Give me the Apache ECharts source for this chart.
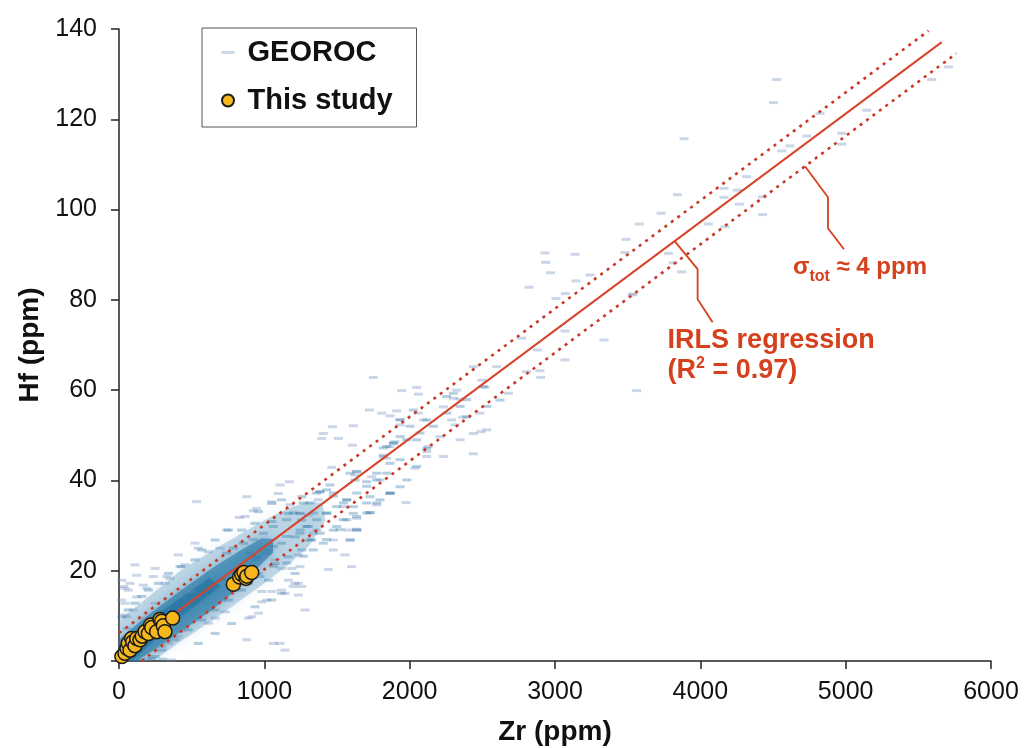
<!DOCTYPE html>
<html><head><meta charset="utf-8">
<script src="https://cdn.jsdelivr.net/npm/echarts@6/dist/echarts.min.js"></script>
<style>html,body{margin:0;padding:0;background:#fff}#c{width:1024px;height:748px}</style>
</head><body><div id="c"></div>
<script>
// ---- axis settings ----
const xAxisMin = 0, xAxisMax = 6000, xAxisStep = 1000;
const yAxisMin = 0, yAxisMax = 140, yAxisStep = 20;
const xName = 'Zr (ppm)';
const yName = 'Hf (ppm)';

// ---- regression lines (Zr, Hf) ----
const regLine   = [[0, 1.3], [5661, 137.1]];
const upperBand = [[0, 6.2], [5570, 139.6]];
const lowerBand = [[155, 0], [5762, 134.6]];
const irlsAnchor  = [3823, 93.0];
const sigmaAnchor = [4720, 109.6];

// ---- This study ----
const thisStudy = [[20,1.0],[41,1.7],[55,2.8],[64,3.9],[76,2.4],[87,5.0],[95,4.2],[110,3.4],[122,5.0],[145,4.7],[160,5.5],[179,6.5],[202,6.1],[218,8.0],[225,7.4],[259,6.5],[282,9.2],[294,8.8],[305,7.8],[316,6.5],[369,9.5],[787,17.0],[830,18.6],[844,19.2],[860,19.6],[874,18.3],[880,18.8],[913,19.6]];

// ---- GEOROC: density envelopes of the dense core ----
const densityOuter = [[0,0],[0,9],[100,11.5],[200,14.2],[430,20.2],[660,24.8],[840,28.2],[1000,31.2],[1160,33.8],[1300,35.2],[1400,35.0],[1420,31.0],[1300,25.2],[1160,21.2],[1000,17.2],[840,13.5],[660,9.4],[430,4.5],[300,1.5],[230,0]];
const densityInner = [[0,0],[0,4.8],[200,10.2],[430,15.8],[660,21.0],[840,24.6],[980,27.2],[1060,27.0],[1060,24.0],[980,21.5],[840,16.6],[660,11.8],[430,6.6],[250,2.6],[120,0]];
const densityCore  = [[0,0.3],[0,3.6],[300,11.2],[620,18.4],[700,16.6],[360,8.2],[100,0.3]];

// ---- GEOROC: individual samples ----
const georocSparse = [[4526,128.8],[4503,123.7],[3888,115.7],[5707,131.6],[5592,128.8],[5145,122.0],[4973,116.9],[4973,114.5],[4823,121.3],[4732,116.3],[4617,114.1],[4560,113.0],[4319,107.3],[4163,104.7],[4255,104.3],[4163,102.7],[4268,101.2],[4429,102.8],[4429,98.9],[3842,103.3],[3730,99.2],[3580,96.8],[3489,93.4],[3482,90.5],[3780,90.3],[3814,88.2],[3872,86.2],[4055,96.8],[4170,96.2],[3539,81.3],
[2931,90.4],[2936,88.3],[2970,86.0],[2821,82.8],[3138,90.1],[3241,85.5],[3145,84.2],[3007,80.3],[3071,81.4],[3069,73.1],[3337,71.1],[2771,71.5],[3528,81.1],[3562,59.9],
[3069,66.7],[2878,68.9],[2897,64.3],[2902,62.8],[2805,64.1],[2599,65.2],[2438,65.2],[2496,62.2],[2518,60.6],[2679,59.3],[2484,54.9],[2491,50.8],[2438,45.9],[2324,60.0],[2300,58.2],[2346,58.0],[2232,56.3],[2365,54.0],[2289,53.4],[2312,52.3],[2048,60.6],[2060,59.1],[1945,59.9],[1750,62.8],[1911,55.4],[1865,54.3],[1808,54.9],[1934,53.5],[1934,52.3],[2060,54.9],[1723,55.6],[2094,53.4],[2209,49.7],[2128,47.5],[2117,46.4],[1865,47.5],[1899,48.6],[1819,45.6],[1842,44.9],[1605,47.8],[1468,51.9],[1612,52.1],[1406,50.4],[1395,49.3],[1509,49.3],[2037,42.7],[1865,37.1],[1975,35.1],[1739,40.8],[1796,40.1],[1636,41.9],[1624,41.2],[1464,42.9],[1636,31.6],[1636,29.2],[1590,26.8],[1727,32.8],[1773,34.6],[1383,37.5],[1544,34.2],[2530,51.2],[2232,45.3],[2347,49.0],[2438,50.4],[2117,45.3],
[534,35.3],[879,36.4],[947,33.8],[1172,39.7],[1108,39.0],[1096,37.1],[1051,35.3],[867,32.0],[924,33.3],[828,31.8],[741,29.0],[695,25.0],[546,25.0],[454,21.3],[236,18.7],[122,19.0],[76,17.2],[41,16.1],[167,16.8],[328,18.7],[420,20.9],[1177,34.6],[1245,32.7],[1371,35.7],[1303,32.3],[1360,29.0],[1337,28.3],[1475,26.8],[1475,24.6],[1578,29.0],[1636,29.0],[1440,20.3],[1555,23.5],[1601,20.9],[1245,20.9],[1199,16.5],[1234,17.2],[1142,15.0],
[523,26.1],[615,24.2],[408,23.5],[110,21.3],[248,20.5],[351,18.3],[317,17.2],[190,16.1],[122,14.2],[64,15.7],[41,12.8],[98,11.3],[53,9.8],[53,7.2],[167,9.5],[248,12.8],[500,15.4],[1073,22.4],[1119,20.5],[1165,17.9],[1211,17.2],[1257,16.5],[1119,15.7],[1051,15.4],[1017,13.5],[982,13.1],[959,10.6],[913,9.8],[890,9.5],[982,15.4],[1234,23.5],[1188,20.5],[1062,3.9],[1234,14.6],[1280,11.3],[879,4.7],[1108,3.9],[1142,2.4],[707,13.5],[730,10.9],[661,9.5],[615,8.4],[431,6.9],[408,5.4],[339,3.9],[294,3.2],[362,0.2],[202,0.6],[18,17.9],[30,16.5],[18,13.5],[41,10.2]];

const georocCloud = [[1051,34.9],[1119,35.7],[1257,36.4],[959,33.1],[1165,32.7],[1257,31.2],[1051,30.9],[936,30.5],[844,29.0],[752,29.0],[661,26.8],[569,24.6],[523,22.4],[431,20.9],[340,19.4],[271,17.2],[202,15.7],[156,14.3],[110,12.8],[64,11.3],[18,9.8],[936,23.1],[1028,24.6],[1119,26.1],[1211,27.5],[1303,29.8],[1073,21.6],[1165,23.1],[1257,24.6],[1326,26.8],[959,19.4],[1028,17.9],[890,17.2],[844,15.7],[752,13.5],[661,11.3],[569,9.1],[477,6.9],[385,4.7],[294,2.4],[248,1.0],[546,3.9],[661,6.1],[775,8.3],[936,12.0],[1051,13.5],[1119,15.0],[1211,19.4],[798,20.2],[707,17.9],[615,16.5],[959,23.1],[150,0.3],[230,0.5],[300,0.4],
[1360,37.2],[1429,37.9],[1475,36.5],[1567,35.7],[1613,34.2],[1704,38.7],[1773,40.1],[1842,41.6],[1865,43.8],[1934,44.6],[1819,47.2],[1888,48.3],[1979,49.0],[2071,50.5],[2163,52.0],[2255,54.9],[2347,56.4],[2392,57.9],[2301,59.3],[2507,60.8],[2117,53.4],[2025,55.6],[1865,37.2],[1773,35.0],[1704,32.8],[1635,32.0],[1567,31.3],[1521,29.1],[1429,26.9],[1337,24.6],[1268,23.2],[1154,21.7],[1062,21.0],[970,18.7],[1245,28.3],[1154,27.6],[1062,25.4],[1016,23.9],[947,22.4],[855,21.0],[1337,32.8],[1429,32.8],[1268,35.0],[1199,32.8],[1154,31.3],[1062,29.8],[993,28.3],[924,26.9],[855,26.1],[787,25.0],[741,23.9],[901,23.9],
[1246,32.7],[1314,35.0],[1383,37.5],[1452,39.0],[1475,37.2],[1544,35.0],[1590,41.6],[1624,40.1],[1636,42.0],[1704,39.7],[1773,41.6],[1819,45.3],[1842,47.5],[1888,48.2],[1934,49.7],[1934,53.4],[2002,52.0],[2048,49.0],[2117,47.1],[1291,29.8],[1360,31.3],[1429,32.7],[1498,34.2],[1567,35.7],[1636,37.2],[1383,28.3],[1475,29.0],[1544,31.3],[1613,32.7],[1704,35.0],[1796,35.7],[1865,37.2],[1727,36.4],[1246,29.0],[1314,26.8],[1406,26.1],[1498,29.8],[1590,26.8],[1636,29.0],[1727,32.9],[1934,38.6],[1980,40.1],[2048,43.1],[2255,58.6],[2392,54.1],[2530,56.4],[2622,57.8]];

// ---- styles ----
const FONT = '"Liberation Sans", Arial, sans-serif';
const RED = '#d5401d';
const LINE_RED = '#d8442b';

const chart = echarts.init(document.getElementById('c'), null, {renderer:'canvas'});

function densitySeries(points, fill, blur, z) {
  return {
    type: 'custom', name: 'GEOROC density', coordinateSystem: 'cartesian2d',
    silent: true, z: z, clip: true, data: points, encode: {x: 0, y: 1},
    renderItem: function (params, api) {
      if (params.dataIndex !== 0) return;
      return {type: 'polygon', shape: {points: points.map(p => api.coord(p))},
              style: {fill: fill, shadowBlur: blur, shadowColor: fill}};
    }
  };
}

const option = {
  animation: false,
  backgroundColor: '#ffffff',
  grid: {left: 119, right: 33, top: 29, bottom: 87, containLabel: false, outerBoundsMode: 'none'},
  xAxis: {
    type: 'value', min: xAxisMin, max: xAxisMax, interval: xAxisStep,
    name: xName, nameLocation: 'middle', nameGap: 57,
    nameTextStyle: {fontFamily: FONT, fontSize: 28, fontWeight: 'bold', color: '#111'},
    axisLine: {show: true, lineStyle: {color: '#222', width: 1.5}},
    axisTick: {show: true, inside: false, length: 8, lineStyle: {color: '#222', width: 1.5}},
    axisLabel: {fontFamily: FONT, fontSize: 25, color: '#111', margin: 19, formatter: v => String(v)},
    splitLine: {show: false}
  },
  yAxis: {
    type: 'value', min: yAxisMin, max: yAxisMax, interval: yAxisStep,
    name: yName, nameLocation: 'middle', nameGap: 71,
    nameTextStyle: {fontFamily: FONT, fontSize: 28, fontWeight: 'bold', color: '#111'},
    axisLine: {show: true, lineStyle: {color: '#222', width: 1.5}},
    axisTick: {show: true, inside: false, length: 8, lineStyle: {color: '#222', width: 1.5}},
    axisLabel: {fontFamily: FONT, fontSize: 25, color: '#111', margin: 22, formatter: v => String(v)},
    splitLine: {show: false}
  },
  legend: {
    show: true, orient: 'vertical', left: 202, top: 28,
    padding: [10, 24, 12, 19], itemGap: 19, itemWidth: 13, itemHeight: 12,
    borderColor: '#555', borderWidth: 1, backgroundColor: '#fff',
    textStyle: {fontFamily: FONT, fontSize: 29, fontWeight: 'bold', color: '#111', padding: [0, 0, 0, 8]},
    data: [
      {name: 'GEOROC', icon: 'path://M0,0h13v3.2h-13z', itemStyle: {color: '#c3d0e3', borderWidth: 0}},
      {name: 'This study', icon: 'circle'}
    ]
  },
  series: [
    {type: 'scatter', name: 'GEOROC', data: georocSparse, symbol: 'rect', symbolSize: [9, 3],
     itemStyle: {color: 'rgba(110,140,190,0.45)'}, z: 2, silent: true},
    densitySeries(densityOuter, 'rgba(80,145,188,0.33)', 14, 1),
    densitySeries(densityInner, 'rgba(35,118,165,0.6)', 12, 1),
    densitySeries(densityCore, 'rgba(28,108,155,0.5)', 8, 1),
    {type: 'scatter', name: 'GEOROC', data: georocCloud, symbol: 'rect', symbolSize: [9, 3],
     itemStyle: {color: 'rgba(50,122,170,0.45)'}, z: 2, silent: true},
    {type: 'line', name: 'IRLS', data: regLine, symbol: 'none', silent: true, z: 3,
     lineStyle: {color: LINE_RED, width: 2}},
    {type: 'line', name: 'upper', data: upperBand, symbol: 'none', silent: true, z: 3,
     lineStyle: {color: '#c93a24', width: 2.6, type: [3, 5]}},
    {type: 'line', name: 'lower', data: lowerBand, symbol: 'none', silent: true, z: 3,
     lineStyle: {color: '#c93a24', width: 2.6, type: [3, 5]}},
    {type: 'scatter', name: 'This study', data: thisStudy, symbol: 'circle', symbolSize: 14, z: 5,
     itemStyle: {color: '#f6b71c', borderColor: '#1a1a1a', borderWidth: 1.5, opacity: 1}}
  ]
};
chart.setOption(option);

// ---- annotations anchored on the regression lines ----
const pA = chart.convertToPixel({gridIndex: 0}, irlsAnchor);
const pS = chart.convertToPixel({gridIndex: 0}, sigmaAnchor);
chart.setOption({graphic: [
  {type: 'polyline', silent: true, z: 10,
   shape: {points: [[pA[0], pA[1]], [pA[0] + 23, pA[1] + 28], [pA[0] + 23, pA[1] + 58], [pA[0] + 38, pA[1] + 81]]},
   style: {stroke: RED, lineWidth: 1.8, fill: null}},
  {type: 'text', silent: true, z: 10,
   style: {text: 'IRLS regression', x: pA[0] - 7, y: pA[1] + 99, fill: RED, fontFamily: FONT, fontSize: 27,
           fontWeight: 'bold', align: 'left', verticalAlign: 'middle'}},
  {type: 'text', silent: true, z: 10,
   style: {text: '{m|(R}{s|2}{m| = 0.97)}', x: pA[0] - 7, y: pA[1] + 129, align: 'left', verticalAlign: 'middle',
     rich: {m: {fontFamily: FONT, fontSize: 27, fontWeight: 'bold', fill: RED, lineHeight: 30, verticalAlign: 'middle'},
            s: {fontFamily: FONT, fontSize: 16, fontWeight: 'bold', fill: RED, lineHeight: 16, verticalAlign: 'top'}}}},
  {type: 'polyline', silent: true, z: 10,
   shape: {points: [[pS[0], pS[1]], [pS[0] + 23, pS[1] + 31], [pS[0] + 23, pS[1] + 62], [pS[0] + 39, pS[1] + 83]]},
   style: {stroke: RED, lineWidth: 1.8, fill: null}},
  {type: 'text', silent: true, z: 10,
   style: {text: '{m|σ}{b|tot}{m| ≈ 4 ppm}', x: pS[0] - 12, y: pS[1] + 101, align: 'left', verticalAlign: 'middle',
     rich: {m: {fontFamily: FONT, fontSize: 24, fontWeight: 'bold', fill: RED, lineHeight: 34, verticalAlign: 'middle'},
            b: {fontFamily: FONT, fontSize: 16, fontWeight: 'bold', fill: RED, lineHeight: 16, verticalAlign: 'bottom'}}}}
]});
</script>
</body></html>
